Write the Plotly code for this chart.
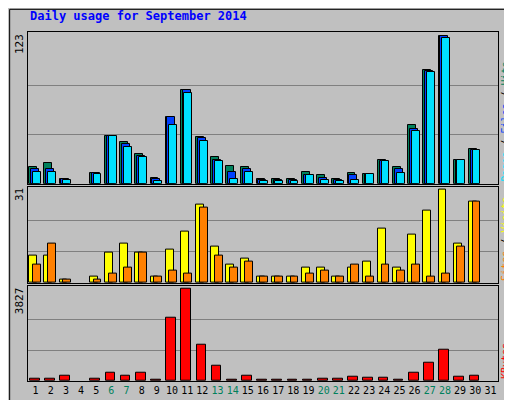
import plotly.graph_objects as go

days = list(range(1, 32))
hits = [14, 17, 4, 0, 9, 40, 35, 25, 5, 56, 78, 39, 22, 15, 14, 4, 4, 4, 10, 7, 4, 9, 8, 20, 14, 49, 95, 123, 20, 29, 0]
files = [12, 12, 4, 0, 9, 40, 33, 23, 4, 56, 78, 38, 20, 10, 12, 3, 3, 3, 7, 5, 3, 7, 8, 19, 12, 46, 94, 123, 20, 28, 0]
pages = [10, 10, 3, 0, 8, 40, 31, 22, 2, 49, 76, 36, 19, 4, 10, 2, 2, 2, 7, 3, 2, 3, 8, 19, 9, 44, 93, 122, 20, 28, 0]
visits = [9, 9, 1, 0, 2, 10, 13, 10, 2, 11, 17, 26, 12, 6, 8, 2, 2, 2, 5, 5, 2, 5, 7, 18, 5, 16, 24, 31, 13, 27, 0]
sites = [6, 13, 1, 0, 1, 3, 5, 10, 2, 4, 3, 25, 9, 5, 7, 2, 2, 2, 3, 4, 2, 6, 2, 6, 4, 6, 2, 3, 12, 27, 0]
kbytes = [111, 111, 236, 0, 111, 362, 236, 362, 70, 2616, 3827, 1489, 612, 70, 236, 70, 70, 70, 70, 111, 111, 195, 153, 153, 70, 362, 737, 1280, 195, 236, 0]
weekends = [6, 7, 13, 14, 20, 21, 27, 28]

GREEN, BLUE, CYAN = "#00805c", "#0040ff", "#00e0ff"
YEL, ORA, RED = "#ffff00", "#ff8000", "#ff0000"
BG = "#c0c0c0"
FONT = "DejaVu Sans Mono"

fig = go.Figure()
line = dict(color="black", width=1)
def bar(y, color, off, w, ax):
    yy = [v if v > 0 else None for v in y]
    fig.add_trace(go.Bar(x=days, y=yy, marker=dict(color=color, line=line), width=w,
                         offset=off, xaxis="x", yaxis=ax, showlegend=False))

bar(hits, GREEN, -0.42, 0.52, "y")
bar(files, BLUE, -0.3, 0.52, "y")
bar(pages, CYAN, -0.18, 0.52, "y")
bar(visits, YEL, -0.42, 0.52, "y2")
bar(sites, ORA, -0.18, 0.52, "y2")
bar(kbytes, RED, -0.38, 0.64, "y3")

ticktext = [f"<span style='color:{GREEN if d in weekends else 'black'}'>{d}</span>" for d in days]
fig.update_layout(
    width=512, height=400, margin=dict(l=20, r=22, t=24, b=24),
    paper_bgcolor=BG, plot_bgcolor=BG, barmode="overlay", bargap=0,
    font=dict(family=FONT, size=11, color="black"),
    xaxis=dict(range=[0.5, 31.5], tickvals=days, ticktext=ticktext, showgrid=False, tickangle=0,
               tickfont=dict(size=10), ticks="", showline=True, linecolor="black", mirror=True,
               anchor="y3"),
)
maxes = {"y": 123, "y2": 31, "y3": 3827}
domains = {"y": [0.565, 1], "y2": [0.281, 0.557], "y3": [0, 0.273]}
for k, key in [("y", "yaxis"), ("y2", "yaxis2"), ("y3", "yaxis3")]:
    m = maxes[k]
    fig.layout[key] = dict(domain=domains[k], range=[0, m * 1.03], tickvals=[m / 3, 2 * m / 3],
                           showticklabels=False, ticks="", gridcolor="#808080", gridwidth=1,
                           zeroline=False, showline=True, linecolor="black", mirror=True)
fig.update_layout(
    xaxis2=dict(overlaying="x", anchor="y", range=[0.5, 31.5], showticklabels=False, showgrid=False,
                showline=True, linecolor="black", mirror=True),
    xaxis3=dict(overlaying="x", anchor="y2", range=[0.5, 31.5], showticklabels=False, showgrid=False,
                showline=True, linecolor="black", mirror=True),
)
fig.add_trace(go.Scatter(x=[], y=[], xaxis="x2", yaxis="y", showlegend=False))
fig.add_trace(go.Scatter(x=[], y=[], xaxis="x3", yaxis="y2", showlegend=False))

fig.add_annotation(text="<b>Daily usage for September 2014</b>", xref="paper", yref="paper",
                   x=-0.0, y=1.0, yshift=16, xanchor="left", yanchor="middle", showarrow=False,
                   font=dict(color="#0000ff", size=12, family=FONT))
for k in ["y", "y2", "y3"]:
    fig.add_annotation(text=str(maxes[k]), xref="paper", yref=k + " domain", x=0, y=1, xshift=-9,
                       xanchor="center", yanchor="top", textangle=-90, showarrow=False,
                       font=dict(size=11, family=FONT))
right = {
    "y": f"<span style='color:{CYAN}'>Pages</span> / <span style='color:{BLUE}'>Files</span> / <span style='color:{GREEN}'>Hits</span>",
    "y2": f"<span style='color:{ORA}'>Sites</span> / <span style='color:{YEL}'>Visits</span>",
    "y3": f"<span style='color:{RED}'>KBytes</span>",
}
for ax, t in right.items():
    fig.add_annotation(text=t, xref="paper", yref=ax + " domain", x=1, y=0, xshift=8,
                       xanchor="center", yanchor="bottom", textangle=-90, showarrow=False,
                       font=dict(size=10, family=FONT))
fig.add_shape(type="rect", xref="paper", yref="paper", x0=-0.039, x1=1.04, y0=-0.066, y1=1.065,
              line=dict(color="black", width=1))
fig.write_html("out.html")
